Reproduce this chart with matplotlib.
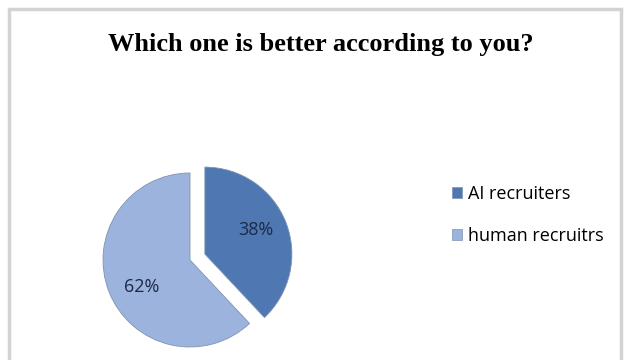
import matplotlib.pyplot as plt
from matplotlib.patches import Rectangle, Patch

# ---------- data ----------
labels = ["AI recruiters", "human recruitrs"]
shares = [38, 62]
colors = ["#4f78b3", "#9cb3dd"]
explode = [0.16, 0.0]
title = "Which one is better according to you?"
# --------------------------

W, H = 627, 360
fig = plt.figure(figsize=(W / 100, H / 100), dpi=100)
fig.patch.set_facecolor("white")

# chart frame (cropped at the bottom in the original)
fig.patches.append(Rectangle((9 / W, -0.1), (621 - 9) / W, (H - 9) / H + 0.1,
                             transform=fig.transFigure, fill=False,
                             edgecolor="#d3d3d3", linewidth=2.5))

# pie axes, centred at pixel (190, 260) from top-left
cx, cy, half = 190, H - 260, 130
ax = fig.add_axes([(cx - half) / W, (cy - half) / H, 2 * half / W, 2 * half / H])
wedges, texts, autotexts = ax.pie(
    shares, colors=colors, explode=explode, startangle=90, counterclock=False,
    radius=0.87, autopct=lambda p: f"{p:.0f}%", pctdistance=0.66,
    wedgeprops=dict(edgecolor="#7f93b0", linewidth=0.6),
    textprops=dict(fontsize=13, color="#1c2a44", family="Open Sans"))
# small nudges so the labels sit where the original puts them
x, y = autotexts[0].get_position()
autotexts[0].set_position((x - 0.02, y + 0.03))
x, y = autotexts[1].get_position()
autotexts[1].set_position((x + 0.05, y - 0.06))
ax.set_xlim(-1.3, 1.3)
ax.set_ylim(-1.3, 1.3)
ax.set_aspect("equal")
ax.axis("off")

fig.text(321 / W, 1 - 45 / H, title, ha="center", va="center",
         fontsize=19, fontweight="bold", family="Liberation Serif")

handles = [Patch(facecolor=c, edgecolor="#7f93b0", linewidth=0.5) for c in colors]
fig.legend(handles, labels, loc="upper left", bbox_to_anchor=(436 / W, 1 - 169 / H),
           frameon=False, handlelength=0.55, handleheight=0.55, handletextpad=0.35,
           labelspacing=1.3, prop=dict(family="Open Sans", size=13))

fig.savefig("out.png", dpi=100)
